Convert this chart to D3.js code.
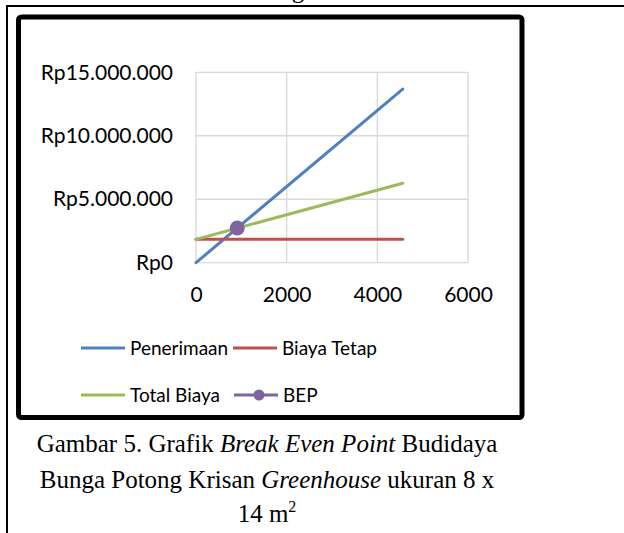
<!DOCTYPE html>
<html>
<head>
<meta charset="utf-8">
<script src="https://cdn.jsdelivr.net/npm/d3@7"></script>
<style>
  body { margin: 0; background: #fff; }
  svg { display: block; }
</style>
</head>
<body>
<svg id="chart" width="624" height="533"></svg>
<script>
// data
var quantity = [0, 4560];
var penerimaan = [0, 13680000];
var biayaTetap = [1840000, 1840000];
var totalBiaya = [1840000, 6260000];
var bepX = [910];
var bepY = [2730000];
var xTicks = [0, 2000, 4000, 6000];
var yTicks = [0, 5000000, 10000000, 15000000];
var legendNames = ['Penerimaan', 'Biaya Tetap', 'Total Biaya', 'BEP'];
var colors = ['#4F81BD', '#C0504D', '#9BBB59', '#8064A2'];

var svg = d3.select('#chart');
var axisFont = 'Lato, "Liberation Sans", sans-serif';
var serif = '"Liberation Serif", "Times New Roman", serif';

// page frame + fragment of text above
svg.append('path')
    .attr('d', 'M7,533 V6 H624')
    .attr('fill', 'none')
    .attr('stroke', '#000')
    .attr('stroke-width', 2);
svg.append('text')
    .attr('x', 298).attr('y', -2)
    .attr('text-anchor', 'middle')
    .style('font-family', serif).style('font-size', '25px')
    .text('g');

// chart box
svg.append('rect')
    .attr('x', 18.5).attr('y', 17)
    .attr('width', 503.5).attr('height', 400.5)
    .attr('rx', 3)
    .attr('fill', '#fff')
    .attr('stroke', '#000')
    .attr('stroke-width', 5);

var x = d3.scaleLinear().domain([0, 6000]).range([196, 468]);
var y = d3.scaleLinear().domain([0, 15000000]).range([262.7, 72.3]);

var rp = d3.formatLocale({decimal: ',', thousands: '.', grouping: [3], currency: ['Rp', '']}).format('$,');

// gridlines
svg.append('g').selectAll('line').data(yTicks).enter().append('line')
    .attr('x1', x(0)).attr('x2', x(6000))
    .attr('y1', function(d) { return y(d); }).attr('y2', function(d) { return y(d); })
    .attr('stroke', '#d9d9d9').attr('stroke-width', 1.3);
svg.append('g').selectAll('line').data(xTicks).enter().append('line')
    .attr('y1', y(0)).attr('y2', y(15000000))
    .attr('x1', function(d) { return x(d); }).attr('x2', function(d) { return x(d); })
    .attr('stroke', '#d9d9d9').attr('stroke-width', 1.3);

// axes
var yAxis = svg.append('g')
    .attr('transform', 'translate(' + x(0) + ',0)')
    .call(d3.axisLeft(y).tickValues(yTicks).tickFormat(rp).tickSize(0).tickPadding(23));
var xAxis = svg.append('g')
    .attr('transform', 'translate(0,' + y(0) + ')')
    .call(d3.axisBottom(x).tickValues(xTicks).tickFormat(d3.format('d')).tickSize(0).tickPadding(24));
[yAxis, xAxis].forEach(function(a) {
    a.select('.domain').remove();
    a.selectAll('text')
        .style('font-family', axisFont)
        .style('font-size', '21px')
        .attr('fill', '#000');
});

// series lines
var series = [penerimaan, biayaTetap, totalBiaya];
var line = d3.line()
    .x(function(d, i) { return x(quantity[i]); })
    .y(function(d) { return y(d); });
svg.append('g').selectAll('path').data(series).enter().append('path')
    .attr('d', line)
    .attr('fill', 'none')
    .attr('stroke', function(d, i) { return colors[i]; })
    .attr('stroke-width', 3)
    .attr('stroke-linecap', 'round');

svg.append('g').selectAll('circle').data(bepX).enter().append('circle')
    .attr('cx', function(d) { return x(d); })
    .attr('cy', function(d, i) { return y(bepY[i]); })
    .attr('r', 7.5)
    .attr('fill', colors[3]);

// legend
var legendPos = [[81, 348], [233, 348], [81, 395], [234, 395]];
var leg = svg.append('g').selectAll('g').data(legendNames).enter().append('g')
    .attr('transform', function(d, i) { return 'translate(' + legendPos[i][0] + ',' + legendPos[i][1] + ')'; });
leg.append('line')
    .attr('x1', 0).attr('x2', 44)
    .attr('stroke', function(d, i) { return colors[i]; })
    .attr('stroke-width', 3);
leg.filter(function(d) { return d === 'BEP'; }).append('circle')
    .attr('cx', 25).attr('r', 5.5)
    .attr('fill', colors[3]);
leg.append('text')
    .attr('x', 49).attr('dy', '0.35em')
    .style('font-family', axisFont)
    .style('font-size', '19px')
    .text(function(d) { return d; });

// caption
var cap = svg.append('g')
    .attr('text-anchor', 'middle')
    .style('font-family', serif)
    .style('font-size', '25px');
var l1 = cap.append('text').attr('x', 267).attr('y', 452);
l1.append('tspan').text('Gambar 5. Grafik ');
l1.append('tspan').style('font-style', 'italic').text('Break Even Point');
l1.append('tspan').text(' Budidaya');
var l2 = cap.append('text').attr('x', 267).attr('y', 488);
l2.append('tspan').text('Bunga Potong Krisan ');
l2.append('tspan').style('font-style', 'italic').text('Greenhouse');
l2.append('tspan').text(' ukuran 8 x');
var l3 = cap.append('text').attr('x', 267).attr('y', 522);
l3.append('tspan').text('14 m');
l3.append('tspan').attr('dy', -10).style('font-size', '16px').text('2');
</script>
</body>
</html>
